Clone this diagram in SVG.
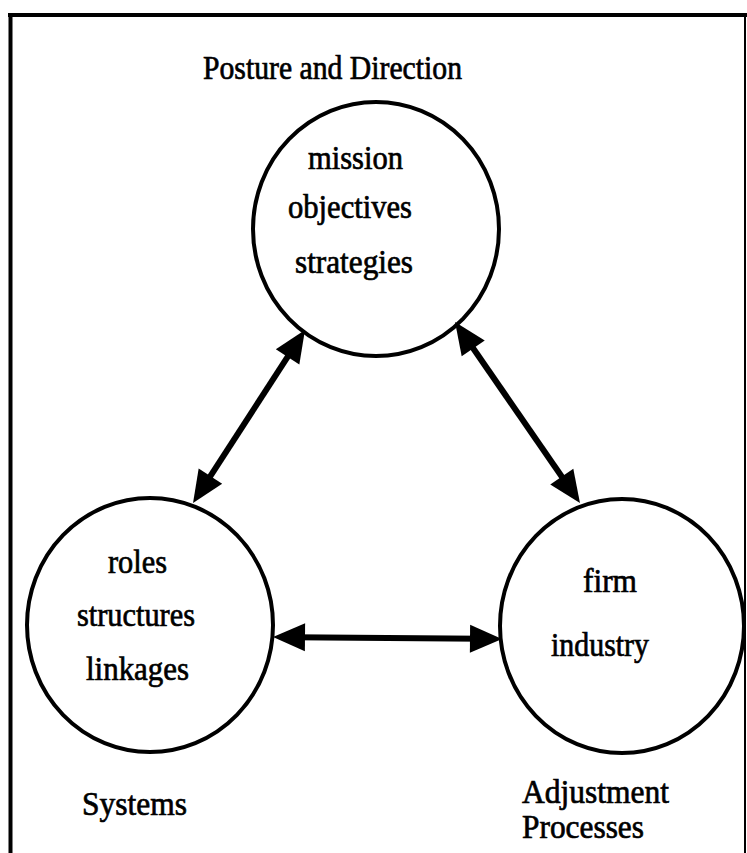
<svg xmlns="http://www.w3.org/2000/svg" width="747" height="853" viewBox="0 0 747 853">
<style>
.node{fill:none;stroke:#000;stroke-width:4}
.lbl{font-family:"Liberation Serif","Times New Roman",serif;font-size:34px;fill:#000;stroke:#000;stroke-width:0.7}
.conn{stroke:#000;stroke-width:6;fill:none;marker-start:url(#ah);marker-end:url(#ah)}
.frame{stroke:#000;fill:none}
</style>
<defs>
<marker id="ah" markerUnits="userSpaceOnUse" markerWidth="32" markerHeight="28" refX="12" refY="14" orient="auto-start-reverse" overflow="visible">
<path d="M0,0 L32,14 L0,28 Z" fill="#000"/>
</marker>
</defs>
<rect width="747" height="853" fill="#fff"/>
<g id="frame">
<line class="frame" x1="8" y1="15" x2="747" y2="15" stroke-width="4"/>
<line class="frame" x1="10.5" y1="13" x2="10.5" y2="853" stroke-width="4"/>
<line class="frame" x1="745" y1="14" x2="745" y2="853" stroke-width="2"/>
</g>
<g id="connectors">
<line class="conn" x1="294.1" y1="346.8" x2="203.9" y2="486.2"/>
<line class="conn" x1="466.4" y1="338.5" x2="568.6" y2="486.5"/>
<line class="conn" x1="293" y1="637.2" x2="482" y2="638.8"/>
</g>
<g id="posture">
<ellipse class="node" cx="376" cy="229" rx="123" ry="127"/>
<text class="lbl" x="203" y="79" textLength="259" lengthAdjust="spacingAndGlyphs">Posture and Direction</text>
<text class="lbl" x="308" y="169" textLength="95" lengthAdjust="spacingAndGlyphs">mission</text>
<text class="lbl" x="288" y="218" textLength="124" lengthAdjust="spacingAndGlyphs">objectives</text>
<text class="lbl" x="295" y="273" textLength="118" lengthAdjust="spacingAndGlyphs">strategies</text>
</g>
<g id="systems">
<ellipse class="node" cx="150" cy="625" rx="123" ry="127"/>
<text class="lbl" x="108" y="573" textLength="59" lengthAdjust="spacingAndGlyphs">roles</text>
<text class="lbl" x="77" y="626" textLength="118" lengthAdjust="spacingAndGlyphs">structures</text>
<text class="lbl" x="86" y="680" textLength="103" lengthAdjust="spacingAndGlyphs">linkages</text>
<text class="lbl" x="82" y="815" textLength="105" lengthAdjust="spacingAndGlyphs">Systems</text>
</g>
<g id="adjustment">
<ellipse class="node" cx="622" cy="626" rx="122" ry="127"/>
<text class="lbl" x="583" y="592" textLength="54" lengthAdjust="spacingAndGlyphs">firm</text>
<text class="lbl" x="551" y="656" textLength="98" lengthAdjust="spacingAndGlyphs">industry</text>
<text class="lbl" x="522" y="803" textLength="147" lengthAdjust="spacingAndGlyphs">Adjustment</text>
<text class="lbl" x="522" y="838" textLength="122" lengthAdjust="spacingAndGlyphs">Processes</text>
</g>
</svg>
